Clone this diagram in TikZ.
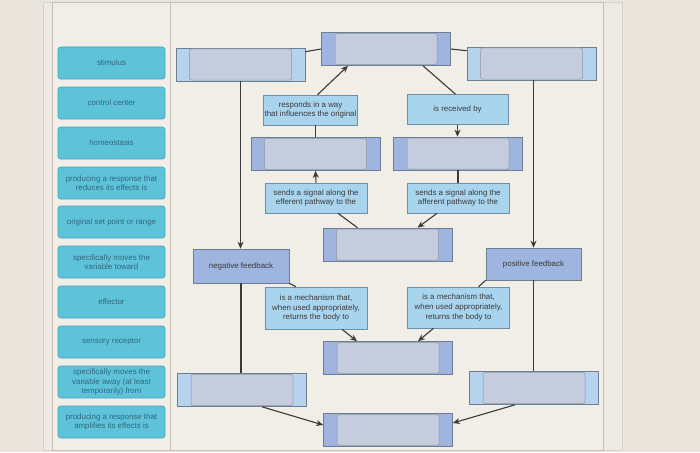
\documentclass[tikz,border=0pt]{standalone}
\usepackage{fontspec}
\setmainfont{Liberation Sans}
\usepackage{tikz}
\usetikzlibrary{arrows.meta,positioning,calc}
\definecolor{wall}{HTML}{E9E5DC}
\definecolor{sheet}{HTML}{F1EEE7}
\definecolor{rule}{HTML}{C4C0B8}
\definecolor{tilefill}{HTML}{5EC2D9}
\definecolor{tileedge}{HTML}{47A4BC}
\definecolor{tiletext}{HTML}{2E6A80}
\definecolor{darkslot}{HTML}{9FB4DF}
\definecolor{lightslot}{HTML}{B5D3EC}
\definecolor{slotfill}{HTML}{C4CCDD}
\definecolor{slotedge}{HTML}{6E7D90}
\definecolor{linkfill}{HTML}{A9D4EE}
\definecolor{linkedge}{HTML}{6F8FA6}
\definecolor{fbfill}{HTML}{9DB5DF}
\definecolor{ink}{HTML}{3A3A3C}
\tikzset{
  tile/.style={rectangle, rounded corners=2.5pt, draw=tileedge, fill=tilefill, line width=0.6pt,
               align=center, inner sep=1pt, minimum width=107pt, minimum height=32pt,
               text=tiletext, font=\fontsize{7.9}{9.6}\selectfont},
  drop/.style={rectangle, draw=slotedge, line width=0.6pt, inner sep=0pt,
               minimum width=129pt, minimum height=33pt},
  darkdrop/.style={drop, fill=darkslot},
  lightdrop/.style={drop, fill=lightslot},
  slot/.style={rectangle, rounded corners=2pt, draw=slotedge!80, fill=slotfill, line width=0.5pt,
               inner sep=0pt, minimum width=102pt, minimum height=31pt},
  linkbox/.style={rectangle, draw=linkedge, fill=linkfill, line width=0.6pt, align=center,
                  inner sep=1pt, minimum width=102pt, minimum height=30pt,
                  text=ink, font=\fontsize{7.9}{9.6}\selectfont},
  fbbox/.style={rectangle, draw=slotedge, fill=fbfill, line width=0.6pt, align=center,
                inner sep=1pt, minimum width=96pt, minimum height=34pt,
                text=ink, font=\fontsize{7.9}{9.6}\selectfont},
  conn/.style={draw=ink, line width=1.1pt},
  flow/.style={conn, -{Stealth[length=7pt, width=6pt]}}
}
\begin{document}
\begin{tikzpicture}[x=1pt, y=-1pt]
\useasboundingbox (0,0) rectangle (700,452);
% screen and panel
\fill[wall] (0,0) rectangle (700,452);
\draw[rule!70, fill=sheet!60!wall] (43,2) rectangle (622,450);
\draw[rule, fill=sheet] (52,2) rectangle (603,450);
\draw[rule] (170,2) -- (170,450);

% word bank
\node[tile] (stim) at (111.5,63) {stimulus};
\node[tile] (ctrl) at (111.5,103) {control center};
\node[tile] (homeo) at (111.5,143) {homeostasis};
\node[tile] (reduce) at (111.5,183) {producing a response that\\reduces its effects is};
\node[tile] (setpt) at (111.5,222) {original set point or range};
\node[tile] (toward) at (111.5,262) {specifically moves the\\variable toward};
\node[tile] (effect) at (111.5,302) {effector};
\node[tile] (sensor) at (111.5,342) {sensory receptor};
\node[tile] (away) at (111.5,382) {specifically moves the\\variable away (at least\\temporarily) from};
\node[tile] (amplify) at (111.5,422) {producing a response that\\amplifies its effects is};

% empty drop targets
\node[lightdrop] (tl) at (240.5,64.5) {};
\node[slot] (tlin) at (tl) {};
\node[darkdrop] (tc) at (386,49) {};
\node[slot] (tcin) at (tc) {};
\node[lightdrop] (tr) at (531.5,63.5) {};
\node[slot] (trin) at (tr) {};
\node[darkdrop] (ml) at (315.5,154) {};
\node[slot] (mlin) at (ml) {};
\node[darkdrop] (mr) at (458,153.5) {};
\node[slot] (mrin) at (mr) {};
\node[darkdrop] (cc) at (387.5,244.5) {};
\node[slot] (ccin) at (cc) {};
\node[darkdrop] (bm) at (388,358) {};
\node[slot] (bmin) at (bm) {};
\node[lightdrop] (bl) at (242,390) {};
\node[slot] (blin) at (bl) {};
\node[lightdrop] (br) at (534,388) {};
\node[slot] (brin) at (br) {};
\node[darkdrop] (bc) at (388,430) {};
\node[slot] (bcin) at (bc) {};

% link phrases
\node[linkbox, minimum width=93pt] (responds) at (310.5,110) {responds in a way\\that influences the original};
\node[linkbox, minimum width=101pt] (received) at (457.5,109.5) {is received by};
\node[linkbox] (efferent) at (316,198) {sends a signal along the\\efferent pathway to the};
\node[linkbox] (afferent) at (458,198) {sends a signal along the\\afferent pathway to the};
\node[linkbox, minimum height=42pt] (mechl) at (316,308) {is a mechanism that,\\when used appropriately,\\returns the body to};
\node[linkbox, minimum height=41pt] (mechr) at (458.5,307.5) {is a mechanism that,\\when used appropriately,\\returns the body to};
\node[fbbox] (neg) at (241,266) {negative feedback};
\node[fbbox, minimum width=95pt, minimum height=32pt] (pos) at (533.5,264) {positive feedback};

% connectors
\draw[conn] ([yshift=-4pt]tl.north east) -- (tc.west);
\draw[conn] (tc.east) -- ([yshift=-4pt]tr.north west);
\draw[flow] (tl.south) -- (tl.south |- neg.north);
\draw[flow] (tr.south -| pos.north) -- (pos.north);
\draw[flow] ([xshift=7pt]responds.north) -- ([xshift=-38pt]tc.south);
\draw[conn] ([xshift=37pt]tc.south) -- ([xshift=-2pt]received.north);
\draw[flow] (received.south) -- (received.south |- mr.north);
\draw[conn] (ml.north) -- (ml.north |- responds.south);
\draw[flow] (efferent.north) -- (ml.south);
\draw[conn] (mr.south) -- (afferent.north);
\draw[conn] ([xshift=-30pt]cc.north) -- ([xshift=22pt]efferent.south);
\draw[flow] ([xshift=-21pt]afferent.south) -- ([xshift=30pt]cc.north);
\draw[conn] (neg.south east) -- ([xshift=-20pt]mechl.north);
\draw[conn] (pos.south west) -- ([xshift=20pt]mechr.north);
\draw[flow] ([xshift=26pt]mechl.south) -- ([xshift=-31pt]bm.north);
\draw[flow] ([xshift=-25pt]mechr.south) -- ([xshift=30pt]bm.north);
\draw[conn] (neg.south) -- (neg.south |- bl.north);
\draw[conn] (pos.south) -- (pos.south |- br.north);
\draw[flow] ([xshift=20pt]bl.south) -- ([yshift=5pt]bc.west);
\draw[flow] ([xshift=-19pt]br.south) -- ([yshift=7pt]bc.east);
\end{tikzpicture}
\end{document}
